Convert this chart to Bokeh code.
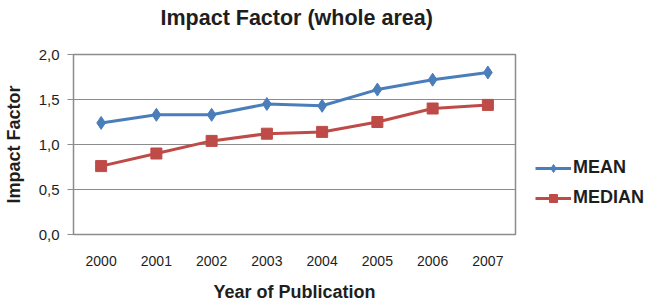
from bokeh.plotting import figure
from bokeh.models import Legend, LegendItem, FixedTicker, CategoricalAxis
from bokeh.embed import file_html
from bokeh.resources import INLINE

years = ["2000", "2001", "2002", "2003", "2004", "2005", "2006", "2007"]
mean_vals = [1.24, 1.33, 1.33, 1.45, 1.43, 1.61, 1.72, 1.80]
median_vals = [0.76, 0.90, 1.04, 1.12, 1.14, 1.25, 1.40, 1.44]
y_ticks = [0.0, 0.5, 1.0, 1.5, 2.0]
y_tick_labels = ["0,0", "0,5", "1,0", "1,5", "2,0"]

BLUE = "#4A7EBB"
RED = "#BE4B48"
GRAY = "#8C8C8C"
FONT = "Liberation Sans"
TXT = "#1E1E1E"

p = figure(x_range=years, y_range=(0, 2), frame_width=442, frame_height=180,
           output_backend="svg", toolbar_location=None,
           min_border_left=70, min_border_right=10, min_border_top=0,
           min_border_bottom=0)
p.background_fill_color = "white"
p.border_fill_color = "white"
p.outline_line_color = GRAY
p.outline_line_width = 1.5

# invisible spacer axis between title and plot frame
spacer = CategoricalAxis(axis_line_color=None, major_tick_line_color=None,
                         minor_tick_line_color=None, major_tick_out=18, major_tick_in=0,
                         major_label_standoff=3, major_label_text_alpha=0,
                         major_label_text_font=FONT, major_label_text_font_size="14px")
p.add_layout(spacer, "above")

p.title.text = "Impact Factor (whole area)"
p.title.align = "left"
p.title.offset = 87
p.title.vertical_align = "top"
p.title.text_font = FONT
p.title.text_font_size = "21.5px"
p.title.text_font_style = "bold"
p.title.text_color = TXT
p.title.standoff = 10

p.xgrid.grid_line_color = None
p.ygrid.grid_line_color = GRAY
p.ygrid.grid_line_width = 1.2

p.yaxis.ticker = FixedTicker(ticks=y_ticks)
p.yaxis.major_label_overrides = {t: l for t, l in zip(y_ticks, y_tick_labels)}
p.yaxis.axis_line_color = None
p.yaxis.major_tick_in = 0
p.yaxis.major_tick_out = 6
p.yaxis.major_tick_line_color = GRAY
p.yaxis.major_tick_line_width = 1.2
p.yaxis.minor_tick_line_color = None
p.yaxis.major_label_standoff = 8
p.yaxis.major_label_text_font = FONT
p.yaxis.major_label_text_font_size = "15px"
p.yaxis.major_label_text_color = TXT
p.yaxis.axis_label = "Impact Factor"
p.yaxis.axis_label_text_font = FONT
p.yaxis.axis_label_text_font_style = "bold"
p.yaxis.axis_label_text_font_size = "18px"
p.yaxis.axis_label_text_color = TXT
p.yaxis.axis_label_standoff = 12

xa = p.below[0]
xa.axis_line_color = None
xa.major_tick_line_color = None
xa.minor_tick_line_color = None
xa.major_label_standoff = 15
xa.major_label_text_font = FONT
xa.major_label_text_font_size = "14px"
xa.major_label_text_color = TXT
xa.axis_label = "Year of Publication"
xa.axis_label_text_font = FONT
xa.axis_label_text_font_style = "bold"
xa.axis_label_text_font_size = "18px"
xa.axis_label_text_color = TXT
xa.axis_label_standoff = 13

l1 = p.line(years, mean_vals, line_color=BLUE, line_width=3)
s1 = p.scatter(years, mean_vals, marker="diamond", size=13, fill_color=BLUE, line_color=BLUE)
l2 = p.line(years, median_vals, line_color=RED, line_width=3)
s2 = p.scatter(years, median_vals, marker="square", size=11, fill_color=RED, line_color=RED)

legend = Legend(items=[LegendItem(label="MEAN", renderers=[l1, s1]),
                       LegendItem(label="MEDIAN", renderers=[l2, s2])],
                location=(20, 26))
legend.border_line_color = None
legend.background_fill_alpha = 0
legend.padding = 0
legend.margin = 0
legend.label_text_font = FONT
legend.label_text_font_style = "bold"
legend.label_text_font_size = "18px"
legend.label_text_color = TXT
legend.glyph_width = 36
legend.spacing = 9
legend.label_standoff = 2
p.add_layout(legend, "right")

open("out.html", "w").write(file_html(p, INLINE))
